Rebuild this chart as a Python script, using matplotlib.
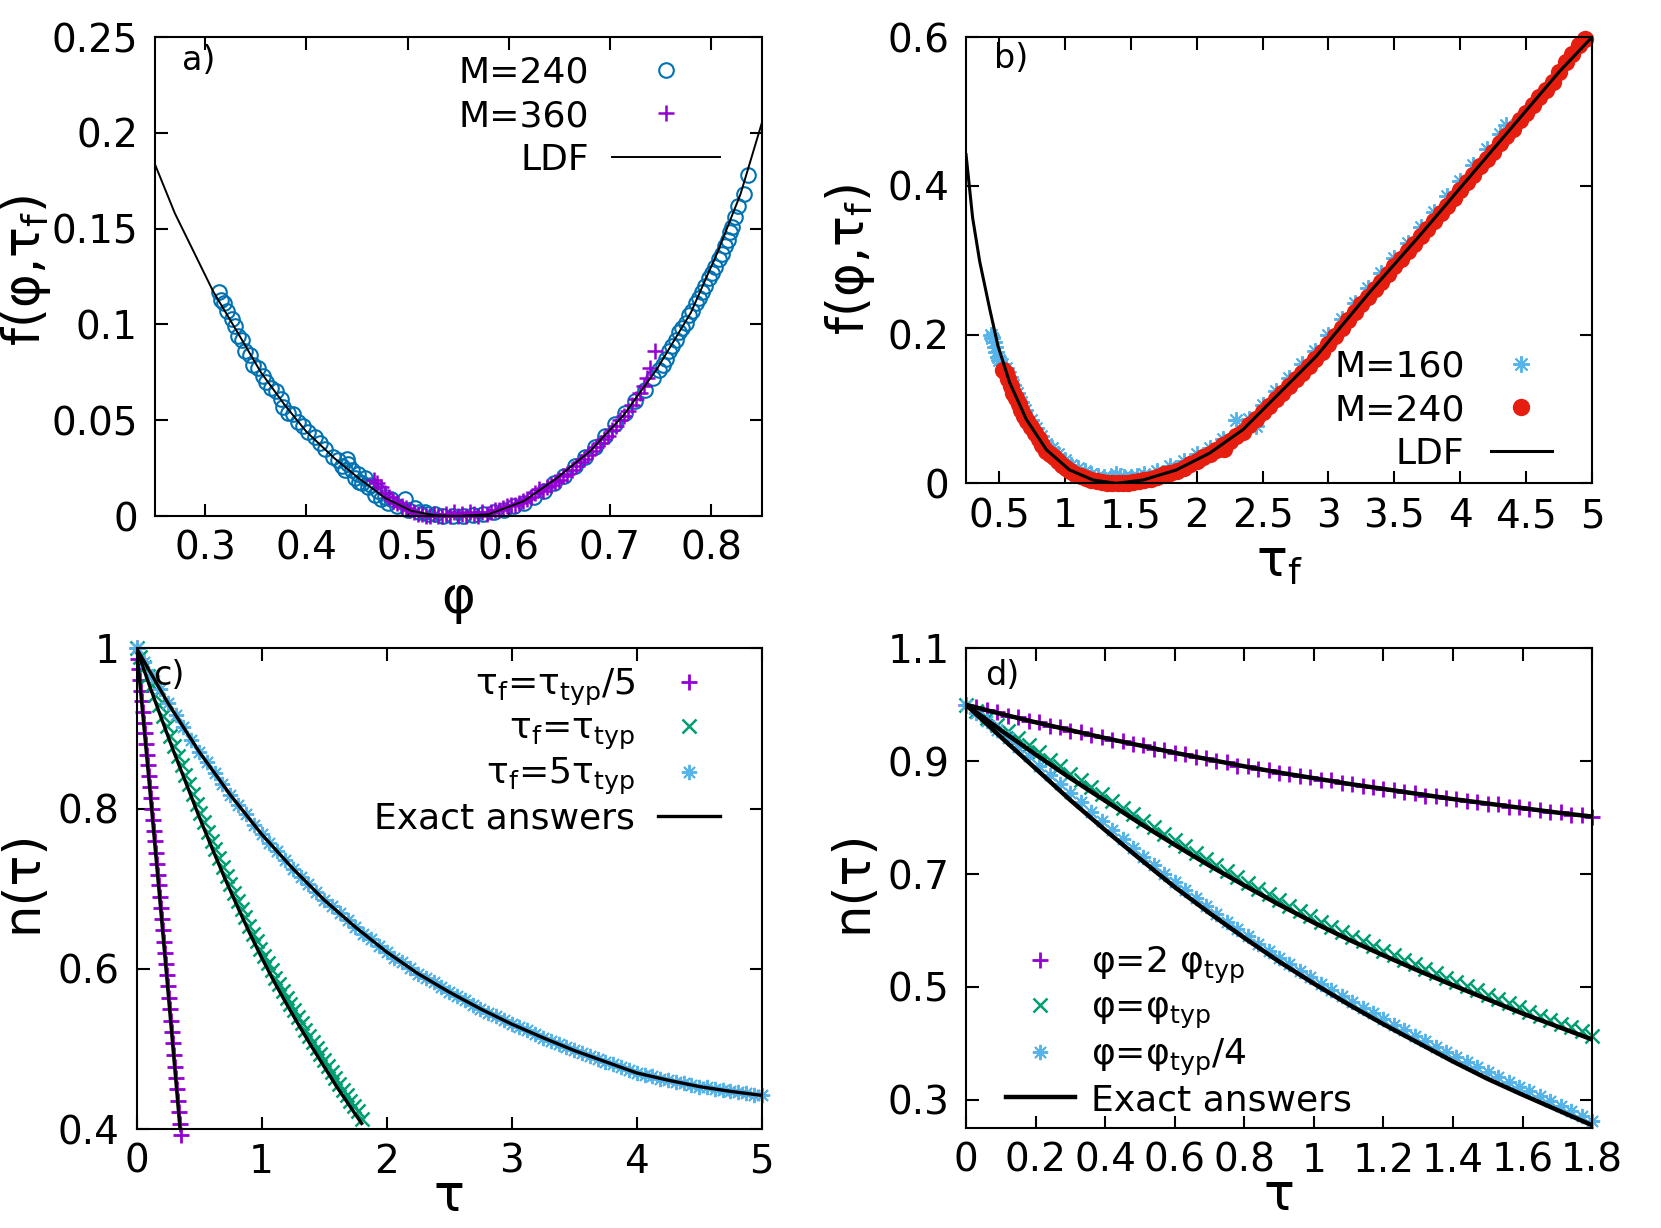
import matplotlib.pyplot as plt
from matplotlib.ticker import FuncFormatter

plt.rcParams['font.family'] = 'DejaVu Sans'
plt.rcParams['mathtext.default'] = 'regular'

PURPLE = '#9400D3'
GREEN = '#009E73'
LBLUE = '#56B4E9'
BLUE = '#0072B2'
RED = '#E51E10'
AST = (8, 2, 0)   # gnuplot style asterisk

# ---------------- panel a) ----------------
ldf_a_phi = [0.25, 0.27, 0.3076, 0.334, 0.355, 0.3785, 0.40, 0.428, 0.451, 0.4775, 0.504, 0.527,
             0.548, 0.58, 0.615, 0.6475, 0.68, 0.7136, 0.7465, 0.78, 0.806, 0.829, 0.85]
ldf_a_f = [0.184, 0.158, 0.1175, 0.094, 0.075, 0.058, 0.044, 0.030, 0.020, 0.0095, 0.0026, 0.0004,
           0.0, 0.0009, 0.0078, 0.0198, 0.0337, 0.0527, 0.0768, 0.1062, 0.1373, 0.168, 0.205]

m240_phi = [0.314, 0.316, 0.319, 0.322, 0.326, 0.329, 0.332, 0.336, 0.339, 0.344, 0.347, 0.352, 0.357,
            0.360, 0.365, 0.370, 0.375, 0.377, 0.382, 0.387, 0.392, 0.397, 0.402, 0.408, 0.413, 0.418,
            0.426, 0.431, 0.435, 0.438, 0.440, 0.441, 0.445, 0.448, 0.451, 0.452, 0.455, 0.458, 0.461,
            0.464, 0.468, 0.471, 0.474, 0.478, 0.481, 0.484, 0.490, 0.497, 0.500, 0.507, 0.511, 0.517,
            0.520, 0.527, 0.535, 0.545, 0.555, 0.565, 0.575, 0.585, 0.595, 0.605, 0.615, 0.625, 0.635,
            0.645, 0.655, 0.665, 0.675, 0.685, 0.695, 0.705, 0.715, 0.725, 0.735, 0.743, 0.748, 0.752,
            0.755, 0.758, 0.761, 0.765, 0.768, 0.771, 0.775, 0.778, 0.781, 0.785, 0.788, 0.791, 0.794,
            0.798, 0.801, 0.804, 0.808, 0.811, 0.814, 0.817, 0.819, 0.821, 0.824, 0.827, 0.832, 0.836]
m240_f = [0.117, 0.113, 0.111, 0.107, 0.103, 0.099, 0.094, 0.092, 0.086, 0.084, 0.079, 0.077, 0.073,
          0.070, 0.067, 0.065, 0.061, 0.057, 0.054, 0.053, 0.049, 0.047, 0.044, 0.041, 0.038, 0.035,
          0.031, 0.029, 0.026, 0.024, 0.030, 0.027, 0.024, 0.020, 0.022, 0.018, 0.017, 0.020, 0.015,
          0.016, 0.011, 0.013, 0.009, 0.010, 0.007, 0.009, 0.005, 0.009, 0.003, 0.004, 0.002, 0.002,
          0.001, 0.001, 0.000, 0.000, 0.000, 0.0005, 0.001, 0.002, 0.003, 0.005, 0.007, 0.010, 0.013,
          0.017, 0.021, 0.026, 0.031, 0.036, 0.042, 0.048, 0.054, 0.060, 0.066, 0.072, 0.076, 0.079,
          0.082, 0.086, 0.089, 0.092, 0.096, 0.098, 0.101, 0.105, 0.107, 0.111, 0.114, 0.117, 0.120,
          0.124, 0.127, 0.130, 0.134, 0.137, 0.141, 0.144, 0.148, 0.151, 0.156, 0.162, 0.168, 0.178]

m360_phi = [0.467, 0.470, 0.474, 0.478, 0.482, 0.486, 0.490, 0.494, 0.498, 0.502, 0.506, 0.510, 0.514,
            0.518, 0.522, 0.526, 0.530, 0.534, 0.538, 0.542, 0.546, 0.550, 0.554, 0.558, 0.562, 0.566,
            0.570, 0.574, 0.578, 0.582, 0.586, 0.590, 0.594, 0.598, 0.602, 0.606, 0.610, 0.614, 0.618,
            0.622, 0.626, 0.630, 0.634, 0.638, 0.642, 0.646, 0.650, 0.654, 0.658, 0.662, 0.666, 0.670,
            0.674, 0.678, 0.682, 0.686, 0.690, 0.694, 0.698, 0.702, 0.706, 0.710, 0.714, 0.718, 0.722,
            0.726, 0.730, 0.734, 0.737, 0.740, 0.745]
m360_f = [0.019, 0.017, 0.015, 0.012, 0.010, 0.008, 0.007, 0.005, 0.004, 0.003, 0.002, 0.001, 0.001,
          0.000, 0.000, 0.001, 0.000, 0.000, 0.001, 0.000, 0.002, 0.000, 0.001, 0.000, 0.002, 0.001,
          0.000, 0.002, 0.001, 0.002, 0.003, 0.003, 0.004, 0.005, 0.006, 0.006, 0.007, 0.008, 0.009,
          0.010, 0.012, 0.014, 0.013, 0.015, 0.016, 0.018, 0.019, 0.021, 0.022, 0.024, 0.026, 0.028,
          0.030, 0.032, 0.034, 0.036, 0.038, 0.040, 0.042, 0.045, 0.047, 0.050, 0.052, 0.055, 0.058,
          0.061, 0.064, 0.068, 0.072, 0.077, 0.086]

# ---------------- panel b) ----------------
ldf_b_tf = [0.25, 0.30, 0.354, 0.429, 0.492, 0.581, 0.708, 0.86, 1.036, 1.213, 1.39, 1.593, 1.846,
            2.099, 2.351, 2.605, 2.908, 3.313, 3.692, 4.071, 4.451, 4.754, 5.0]
ldf_b_f = [0.442, 0.357, 0.298, 0.235, 0.185, 0.1355, 0.0858, 0.0451, 0.018, 0.0045, 0.0, 0.0045, 0.018,
           0.0407, 0.0722, 0.1173, 0.171, 0.257, 0.333, 0.412, 0.491, 0.554, 0.600]

m160_tf = [0.442, 0.45, 0.46, 0.47, 0.48, 0.49, 0.50, 0.52, 0.55, 0.58, 0.61, 0.64, 0.67, 0.70, 0.74,
           0.78, 0.82, 0.86, 0.90, 0.95, 1.00, 1.05, 1.10, 1.15, 1.20, 1.25, 1.30, 1.35, 1.39, 1.42,
           1.45, 1.50, 1.55, 1.60, 1.70, 1.80, 1.90, 2.00, 2.10, 2.20, 2.30, 2.40, 2.45, 2.50, 2.60,
           2.70, 2.80, 2.90, 3.00, 3.10, 3.20, 3.30, 3.40, 3.50, 3.60, 3.70, 3.80, 3.90, 4.00, 4.10,
           4.20, 4.30, 4.35]
m160_f = [0.200, 0.196, 0.190, 0.183, 0.176, 0.170, 0.166, 0.160, 0.155, 0.143, 0.132, 0.121, 0.110,
          0.098, 0.085, 0.074, 0.064, 0.053, 0.047, 0.039, 0.031, 0.025, 0.020, 0.016, 0.012, 0.010,
          0.008, 0.007, 0.013, 0.010, 0.008, 0.009, 0.010, 0.012, 0.017, 0.023, 0.030, 0.039, 0.048,
          0.060, 0.085, 0.087, 0.077, 0.106, 0.124, 0.142, 0.160, 0.178, 0.199, 0.221, 0.242, 0.263,
          0.283, 0.303, 0.323, 0.344, 0.365, 0.386, 0.407, 0.428, 0.449, 0.470, 0.482]

m240b_tf = [0.53, 0.55, 0.57, 0.59, 0.61, 0.63, 0.65, 0.67, 0.69, 0.71, 0.74, 0.77, 0.80, 0.83, 0.86,
            0.89, 0.92, 0.95, 0.98, 1.01, 1.04, 1.08, 1.12, 1.16, 1.20, 1.24, 1.28, 1.32, 1.36, 1.40,
            1.44, 1.48, 1.52, 1.56, 1.60, 1.65, 1.70, 1.75, 1.80, 1.85, 1.90, 1.95, 2.00, 2.05, 2.10,
            2.15, 2.20, 2.21, 2.25, 2.30, 2.35, 2.40, 2.45, 2.50, 2.55, 2.60, 2.65, 2.70, 2.75, 2.80,
            2.85, 2.90, 2.95, 3.00, 3.05, 3.10, 3.15, 3.20, 3.25, 3.30, 3.35, 3.40, 3.45, 3.50, 3.55,
            3.60, 3.65, 3.70, 3.75, 3.80, 3.85, 3.90, 3.95, 4.00, 4.05, 4.10, 4.15, 4.20, 4.25, 4.30,
            4.35, 4.40, 4.45, 4.50, 4.55, 4.60, 4.65, 4.70, 4.75, 4.80, 4.85, 4.90, 4.95]
m240b_f = [0.152, 0.148, 0.140, 0.131, 0.122, 0.115, 0.107, 0.099, 0.091, 0.084, 0.076, 0.068, 0.060,
           0.052, 0.044, 0.039, 0.035, 0.030, 0.025, 0.021, 0.017, 0.013, 0.010, 0.007, 0.004, 0.003,
           0.002, 0.001, 0.000, 0.000, 0.000, 0.001, 0.002, 0.003, 0.004, 0.006, 0.009, 0.012, 0.014,
           0.017, 0.021, 0.026, 0.030, 0.035, 0.039, 0.045, 0.051, 0.046, 0.057, 0.063, 0.069, 0.078,
           0.087, 0.096, 0.104, 0.113, 0.122, 0.131, 0.140, 0.149, 0.158, 0.167, 0.177, 0.188, 0.198,
           0.209, 0.219, 0.230, 0.241, 0.251, 0.261, 0.271, 0.282, 0.292, 0.302, 0.312, 0.322, 0.332,
           0.342, 0.353, 0.363, 0.373, 0.384, 0.394, 0.405, 0.415, 0.426, 0.436, 0.446, 0.457, 0.467,
           0.477, 0.488, 0.498, 0.509, 0.519, 0.529, 0.540, 0.553, 0.566, 0.577, 0.589, 0.598]

# ---------------- panel c) ----------------
tau_c_fast = [0.000, 0.008, 0.016, 0.024, 0.032, 0.040, 0.048, 0.056, 0.064, 0.072, 0.080, 0.088,
              0.096, 0.104, 0.112, 0.120, 0.128, 0.136, 0.144, 0.152, 0.160, 0.168, 0.176, 0.184,
              0.192, 0.200, 0.208, 0.216, 0.224, 0.232, 0.240, 0.248, 0.256, 0.264, 0.272, 0.280,
              0.288, 0.296, 0.304, 0.312, 0.320, 0.328, 0.336, 0.344, 0.352]
n_c_fast = [1.000, 0.987, 0.974, 0.961, 0.947, 0.934, 0.921, 0.907, 0.894, 0.881, 0.867, 0.854, 0.840,
            0.827, 0.813, 0.800, 0.786, 0.772, 0.759, 0.745, 0.731, 0.717, 0.704, 0.690, 0.676, 0.662,
            0.648, 0.634, 0.620, 0.606, 0.592, 0.578, 0.564, 0.550, 0.535, 0.521, 0.507, 0.493, 0.478,
            0.464, 0.450, 0.435, 0.421, 0.406, 0.392]
tau_c_fast_ex = [0, 0.04, 0.08, 0.12, 0.16, 0.20, 0.24, 0.28, 0.32, 0.36]
n_c_fast_ex = [1.0, 0.934, 0.867, 0.800, 0.731, 0.662, 0.592, 0.521, 0.450, 0.377]

tau_c_slow = [0.0, 0.0625, 0.125, 0.1875, 0.25, 0.3125, 0.375, 0.4375, 0.5, 0.5625, 0.625, 0.6875,
              0.75, 0.8125, 0.875, 0.9375, 1.0, 1.0625, 1.125, 1.1875, 1.25, 1.3125, 1.375, 1.4375,
              1.5, 1.5625, 1.625, 1.6875, 1.75, 1.8125, 1.875, 1.9375, 2.0, 2.0625, 2.125, 2.1875,
              2.25, 2.3125, 2.375, 2.4375, 2.5, 2.5625, 2.625, 2.6875, 2.75, 2.8125, 2.875, 2.9375,
              3.0, 3.0625, 3.125, 3.1875, 3.25, 3.3125, 3.375, 3.4375, 3.5, 3.5625, 3.625, 3.6875,
              3.75, 3.8125, 3.875, 3.9375, 4.0, 4.0625, 4.125, 4.1875, 4.25, 4.3125, 4.375, 4.4375,
              4.5, 4.5625, 4.625, 4.6875, 4.75, 4.8125, 4.875, 4.9375, 5.0]
n_c_slow = [1.000, 0.983, 0.966, 0.949, 0.932, 0.917, 0.902, 0.886, 0.871, 0.858, 0.844, 0.831,
            0.817, 0.805, 0.793, 0.780, 0.768, 0.757, 0.747, 0.736, 0.725, 0.715, 0.706, 0.696,
            0.686, 0.678, 0.669, 0.661, 0.652, 0.644, 0.637, 0.629, 0.621, 0.614, 0.608, 0.601,
            0.594, 0.588, 0.583, 0.577, 0.571, 0.566, 0.561, 0.555, 0.550, 0.545, 0.541, 0.536,
            0.531, 0.527, 0.523, 0.518, 0.514, 0.510, 0.506, 0.502, 0.498, 0.495, 0.491, 0.488,
            0.484, 0.481, 0.477, 0.474, 0.470, 0.468, 0.466, 0.463, 0.461, 0.459, 0.457, 0.455,
            0.453, 0.452, 0.450, 0.449, 0.447, 0.446, 0.445, 0.443, 0.442]
tau_c_slow_ex = [0, 0.25, 0.5, 0.75, 1.0, 1.25, 1.5, 1.75, 2.0, 2.25, 2.5, 2.75, 3.0, 3.25, 3.5,
                 3.75, 4.0, 4.25, 4.5, 4.75, 5.0]
n_c_slow_ex = [1.000, 0.932, 0.871, 0.817, 0.768, 0.725, 0.686, 0.652, 0.621, 0.594, 0.571, 0.550,
               0.531, 0.514, 0.498, 0.484, 0.470, 0.461, 0.453, 0.447, 0.442]

# typical case, shared by c) and d)
tau_pts = [0.00, 0.03, 0.06, 0.09, 0.12, 0.15, 0.18, 0.21, 0.24, 0.27, 0.30, 0.33, 0.36, 0.39, 0.42,
           0.45, 0.48, 0.51, 0.54, 0.57, 0.60, 0.63, 0.66, 0.69, 0.72, 0.75, 0.78, 0.81, 0.84, 0.87,
           0.90, 0.93, 0.96, 0.99, 1.02, 1.05, 1.08, 1.11, 1.14, 1.17, 1.20, 1.23, 1.26, 1.29, 1.32,
           1.35, 1.38, 1.41, 1.44, 1.47, 1.50, 1.53, 1.56, 1.59, 1.62, 1.65, 1.68, 1.71, 1.74, 1.77, 1.80]
n_typ = [1.000, 0.989, 0.977, 0.965, 0.954, 0.942, 0.929, 0.916, 0.903, 0.891, 0.878, 0.866, 0.854,
         0.842, 0.830, 0.818, 0.806, 0.794, 0.783, 0.771, 0.760, 0.749, 0.738, 0.727, 0.716, 0.706,
         0.695, 0.685, 0.674, 0.664, 0.654, 0.644, 0.635, 0.625, 0.616, 0.607, 0.598, 0.589, 0.581,
         0.572, 0.564, 0.556, 0.548, 0.540, 0.532, 0.524, 0.516, 0.509, 0.501, 0.494, 0.486, 0.479,
         0.471, 0.464, 0.456, 0.449, 0.442, 0.435, 0.429, 0.422, 0.413]
tau_ex = [0.0, 0.1, 0.2, 0.3, 0.4, 0.5, 0.6, 0.7, 0.8, 0.9, 1.0, 1.1, 1.2, 1.3, 1.4, 1.5, 1.6, 1.7, 1.8]
n_typ_ex = [1.000, 0.955, 0.912, 0.870, 0.830, 0.790, 0.752, 0.715, 0.680, 0.646, 0.614, 0.584,
            0.556, 0.529, 0.503, 0.478, 0.453, 0.430, 0.407]

# ---------------- panel d) ----------------
n_d_2typ = [1.000, 0.996, 0.990, 0.987, 0.980, 0.978, 0.971, 0.969, 0.962, 0.960, 0.954, 0.952, 0.946,
            0.943, 0.937, 0.936, 0.930, 0.928, 0.922, 0.920, 0.914, 0.912, 0.907, 0.905, 0.900, 0.898,
            0.892, 0.891, 0.886, 0.884, 0.879, 0.878, 0.873, 0.872, 0.867, 0.866, 0.861, 0.860, 0.856,
            0.855, 0.850, 0.849, 0.845, 0.844, 0.839, 0.839, 0.834, 0.833, 0.829, 0.828, 0.824, 0.824,
            0.819, 0.819, 0.815, 0.814, 0.810, 0.810, 0.805, 0.805, 0.801]
n_d_2typ_ex = [1.000, 0.984, 0.969, 0.955, 0.941, 0.928, 0.915, 0.903, 0.891, 0.880, 0.870, 0.860,
               0.851, 0.842, 0.833, 0.825, 0.817, 0.809, 0.802]
n_d_q = [1.000, 0.986, 0.971, 0.956, 0.941, 0.925, 0.909, 0.892, 0.876, 0.859, 0.843, 0.827, 0.810,
         0.794, 0.778, 0.763, 0.747, 0.731, 0.716, 0.701, 0.686, 0.672, 0.657, 0.643, 0.629, 0.616,
         0.603, 0.590, 0.577, 0.564, 0.552, 0.540, 0.529, 0.517, 0.506, 0.495, 0.484, 0.473, 0.463,
         0.453, 0.443, 0.433, 0.423, 0.413, 0.404, 0.394, 0.385, 0.376, 0.367, 0.358, 0.349, 0.340,
         0.332, 0.323, 0.315, 0.306, 0.298, 0.289, 0.281, 0.272, 0.262]
n_d_q_ex = [1.000, 0.943, 0.887, 0.831, 0.778, 0.727, 0.677, 0.631, 0.587, 0.545, 0.506, 0.469,
            0.434, 0.401, 0.368, 0.337, 0.309, 0.282, 0.255]


def fmt(v, pos):
    return f'{v:g}'


def style(ax, xticks, yticks, xlim, ylim):
    ax.set_xlim(*xlim)
    ax.set_ylim(*ylim)
    ax.set_xticks(xticks)
    ax.set_yticks(yticks)
    ax.xaxis.set_major_formatter(FuncFormatter(fmt))
    ax.yaxis.set_major_formatter(FuncFormatter(fmt))
    ax.tick_params(direction='in', length=9, width=1.5, top=True, right=True, labelsize=28)
    ax.tick_params(axis='y', pad=12)
    ax.tick_params(axis='x', pad=10)
    for s in ax.spines.values():
        s.set_linewidth(1.5)


fig = plt.figure(figsize=(16.61, 12.28), dpi=100)
ax_a = fig.add_axes([0.0931, 0.5798, 0.3655, 0.390])
ax_b = fig.add_axes([0.5816, 0.6064, 0.3769, 0.3634])
ax_c = fig.add_axes([0.0822, 0.0806, 0.3764, 0.3915])
ax_d = fig.add_axes([0.5816, 0.0814, 0.3769, 0.3906])

leg_kw = dict(frameon=False, fontsize=26, numpoints=1, borderpad=0, borderaxespad=0)
LAB = 37

# a)
h1, = ax_a.plot(m240_phi, m240_f, ls='none', marker='o', ms=10.5, mfc='none', mec=BLUE, mew=1.5,
                clip_on=False, label='M=240')
h2, = ax_a.plot(m360_phi, m360_f, ls='none', marker='+', ms=11, color=PURPLE, mew=1.8,
                clip_on=False, label='M=360')
h3, = ax_a.plot(ldf_a_phi, ldf_a_f, color='black', lw=1.4, label='LDF')
style(ax_a, [0.3, 0.4, 0.5, 0.6, 0.7, 0.8], [0, 0.05, 0.1, 0.15, 0.2, 0.25], (0.25, 0.85), (0, 0.25))
ax_a.set_xlabel('φ', fontsize=LAB)
ax_a.set_ylabel('f(φ,τ$_f$)', fontsize=LAB)
ax_a.xaxis.set_label_coords(0.5, -0.122)
ax_a.yaxis.set_label_coords(-0.167, 0.514)
ax_a.text(0.045, 0.952, 'a)', transform=ax_a.transAxes, fontsize=24, va='center')
ax_a.legend(handles=[h1, h2, h3], loc='upper right', bbox_to_anchor=(0.9315, 0.962),
            markerfirst=False, handlelength=3.0, handletextpad=0.64, labelspacing=0.27, **leg_kw)

# b)
h1, = ax_b.plot(m160_tf, m160_f, ls='none', marker=AST, ms=12, color=LBLUE, mew=1.4,
                clip_on=False, label='M=160')
h2, = ax_b.plot(m240b_tf, m240b_f, ls='none', marker='o', ms=12.5, color=RED, mew=0,
                clip_on=False, label='M=240')
h3, = ax_b.plot(ldf_b_tf, ldf_b_f, color='black', lw=2.2, label='LDF')
style(ax_b, [0.5, 1, 1.5, 2, 2.5, 3, 3.5, 4, 4.5, 5], [0, 0.2, 0.4, 0.6], (0.25, 5), (0, 0.6))
ax_b.set_xlabel('τ$_f$', fontsize=LAB)
ax_b.set_ylabel('f(φ,τ$_f$)', fontsize=LAB)
ax_b.xaxis.set_label_coords(0.5, -0.122)
ax_b.yaxis.set_label_coords(-0.142, 0.501)
ax_b.text(0.044, 0.953, 'b)', transform=ax_b.transAxes, fontsize=24, va='center')
ax_b.legend(handles=[h1, h2, h3], loc='lower right', bbox_to_anchor=(0.936, 0.028),
            markerfirst=False, handlelength=1.7, handletextpad=0.72, labelspacing=0.27, **leg_kw)

# c)
h1, = ax_c.plot(tau_c_fast, n_c_fast, ls='none', marker='+', ms=12, color=PURPLE, mew=2.0,
                clip_on=False, label='τ$_f$=τ$_{typ}$/5')
h2, = ax_c.plot(tau_pts, n_typ, ls='none', marker='x', ms=10, color=GREEN, mew=1.8,
                clip_on=False, label='τ$_f$=τ$_{typ}$')
h3, = ax_c.plot(tau_c_slow, n_c_slow, ls='none', marker=AST, ms=11, color=LBLUE, mew=1.4,
                clip_on=False, label='τ$_f$=5τ$_{typ}$')
h4, = ax_c.plot(tau_c_fast_ex, n_c_fast_ex, color='black', lw=2.4, label='Exact answers')
ax_c.plot(tau_ex, n_typ_ex, color='black', lw=2.4)
ax_c.plot(tau_c_slow_ex, n_c_slow_ex, color='black', lw=2.4)
style(ax_c, [0, 1, 2, 3, 4, 5], [0.4, 0.6, 0.8, 1], (0, 5), (0.4, 1))
ax_c.set_xlabel('τ', fontsize=LAB)
ax_c.set_ylabel('n(τ)', fontsize=LAB)
ax_c.xaxis.set_label_coords(0.5, -0.09)
ax_c.yaxis.set_label_coords(-0.142, 0.516)
ax_c.text(0.027, 0.944, 'c)', transform=ax_c.transAxes, fontsize=24, va='center')
ax_c.legend(handles=[h1, h2, h3, h4], loc='upper right', bbox_to_anchor=(0.933, 0.962),
            markerfirst=False, handlelength=1.7, handletextpad=0.64, labelspacing=0.12, **leg_kw)

# d)
h1, = ax_d.plot(tau_pts, n_d_2typ, ls='none', marker='+', ms=12, color=PURPLE, mew=2.0,
                clip_on=False, label='φ=2 φ$_{typ}$')
h2, = ax_d.plot(tau_pts, n_typ, ls='none', marker='x', ms=10, color=GREEN, mew=1.8,
                clip_on=False, label='φ=φ$_{typ}$')
h3, = ax_d.plot(tau_pts, n_d_q, ls='none', marker=AST, ms=11, color=LBLUE, mew=1.4,
                clip_on=False, label='φ=φ$_{typ}$/4')
h4, = ax_d.plot(tau_ex, n_d_2typ_ex, color='black', lw=3.2, label='Exact answers')
ax_d.plot(tau_ex, n_typ_ex, color='black', lw=3.2)
ax_d.plot(tau_ex, n_d_q_ex, color='black', lw=3.2)
style(ax_d, [0, 0.2, 0.4, 0.6, 0.8, 1, 1.2, 1.4, 1.6, 1.8], [0.3, 0.5, 0.7, 0.9, 1.1], (0, 1.8), (0.25, 1.1))
ax_d.set_xlabel('τ', fontsize=LAB)
ax_d.set_ylabel('n(τ)', fontsize=LAB)
ax_d.xaxis.set_label_coords(0.5, -0.09)
ax_d.yaxis.set_label_coords(-0.142, 0.515)
ax_d.text(0.030, 0.944, 'd)', transform=ax_d.transAxes, fontsize=24, va='center')
ax_d.legend(handles=[h1, h2, h3, h4], loc='lower left', bbox_to_anchor=(0.064, 0.023),
            markerfirst=True, handlelength=1.9, handletextpad=0.45, labelspacing=0.15, **leg_kw)

fig.savefig('out.png', dpi=100)
